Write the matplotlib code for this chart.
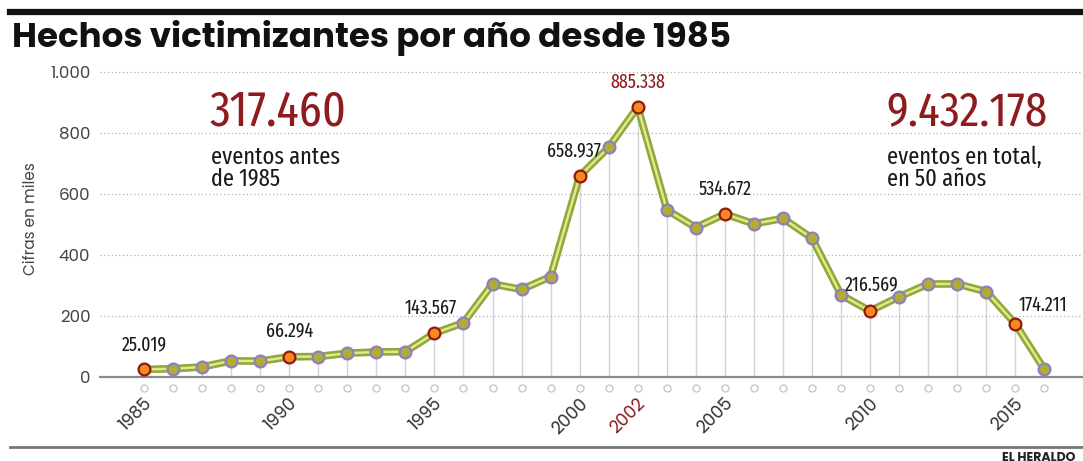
import numpy as np
import matplotlib.pyplot as plt
from matplotlib.transforms import offset_copy

years = list(range(1985, 2017))
values = [25.019, 27, 33, 53, 52, 66.294, 67, 78, 82, 83,
          143.567, 178, 305, 287, 329, 658.937, 753, 885.338, 548, 490,
          534.672, 502, 520, 455, 269, 216.569, 263, 305, 305, 280,
          174.211, 25]
highlight_years = [1985, 1990, 1995, 2000, 2002, 2005, 2010, 2015]
tick_years = [1985, 1990, 1995, 2000, 2002, 2005, 2010, 2015]
y_ticks = [0, 200, 400, 600, 800, 1000]
y_ticklabels = ['0', '200', '400', '600', '800', '1.000']

# label text and offset (points) for the highlighted values
labels = {
    1985: ('25.019', (0, 11)),
    1990: ('66.294', (0, 11)),
    1995: ('143.567', (-3, 11)),
    2000: ('658.937', (-4, 11)),
    2002: ('885.338', (0, 11)),
    2005: ('534.672', (0, 11)),
    2010: ('216.569', (1, 12)),
    2015: ('174.211', (20, 6)),
}

RED = '#8e1b1e'
NARROW = ['Fira Sans Extra Condensed', 'DejaVu Sans']
GEO = ['Poppins', 'Lato', 'DejaVu Sans']


def main():
    fig = plt.figure(figsize=(10.83, 4.61), dpi=100)
    ax = fig.add_axes([100 / 1083, 84 / 461, 983 / 1083, 317 / 461])
    ax.set_xlim(1983.485, 2017.33)
    ax.set_ylim(0, 1039.3)

    # grid + axis
    ax.set_yticks(y_ticks)
    ax.set_yticklabels(y_ticklabels, fontsize=12, color='#444444', family=GEO)
    ax.tick_params(axis='y', length=0, pad=7)
    ax.set_xticks([])
    ax.grid(axis='y', linestyle=(0, (1, 2)), color='#b0b0b0', lw=0.9)
    for s in ['left', 'right', 'top']:
        ax.spines[s].set_visible(False)
    ax.spines['bottom'].set_color('#8a8a8a')
    ax.spines['bottom'].set_linewidth(1.6)
    ax.set_ylabel('Cifras en miles', fontsize=11, color='#444444', labelpad=8,
                  family=GEO)

    # drop lines
    ax.vlines(years, 0, values, color='#d4d4d4', lw=1, zorder=1)

    # small circles under the axis
    below = offset_copy(ax.transData, fig=fig, x=0, y=-11, units='dots')
    ax.plot(years, [0] * len(years), 'o', ms=5, mfc='white', mec='#c8c8c8',
            mew=1, transform=below, clip_on=False)

    # line
    ax.plot(years, values, color='#8ea93a', lw=5.5, zorder=3,
            solid_joinstyle='round')
    ax.plot(years, values, color='#e3e68a', lw=1.8, zorder=4,
            solid_joinstyle='round')

    hv = [values[years.index(y)] for y in highlight_years]
    nv_years = [y for y in years if y not in highlight_years]
    nv = [values[years.index(y)] for y in nv_years]
    ax.plot(nv_years, nv, 'o', ms=8.5, mfc='#b3ac32', mec='#8c7fc4',
            mew=1.6, zorder=5, ls='none')
    ax.plot(highlight_years, hv, 'o', ms=8.5, mfc='#f7891f', mec='#8e1a10',
            mew=1.6, zorder=6, ls='none')

    for y, v in zip(highlight_years, hv):
        txt, off = labels[y]
        ax.annotate(txt, xy=(y, v), xytext=off, textcoords='offset points',
                    ha='center', va='bottom', fontsize=14, family=NARROW,
                    color=RED if y == 2002 else '#1a1a1a', zorder=7)

    # x tick labels
    for y in tick_years:
        ax.annotate(str(y), xy=(y, 0), xytext=(4, -17.5),
                    textcoords='offset points', rotation=45, ha='right',
                    va='center', rotation_mode='anchor', fontsize=12.5,
                    family=GEO, color=RED if y == 2002 else '#333333',
                    annotation_clip=False)

    # big numbers
    fig.text(210 / 1083, 1 - 125 / 461, '317.460', fontsize=36, color=RED,
             family=NARROW, va='baseline')
    fig.text(211 / 1083, 1 - 186 / 461, 'eventos antes\nde 1985', fontsize=17.5,
             color='#1a1a1a', family=NARROW, va='baseline', linespacing=0.95)
    fig.text(886 / 1083, 1 - 125 / 461, '9.432.178', fontsize=35, color=RED,
             family=NARROW, va='baseline')
    fig.text(887 / 1083, 1 - 186 / 461, 'eventos en total,\nen 50 años',
             fontsize=17.5, color='#1a1a1a', family=NARROW, va='baseline',
             linespacing=0.95)

    # title and frame lines
    fig.text(12 / 1083, 1 - 47 / 461, 'Hechos victimizantes por año desde 1985',
             fontsize=24.5, fontweight='bold', family=GEO,
             color='#111111', va='baseline')
    fig.add_artist(plt.Line2D([10 / 1083, 1], [1 - 12 / 461] * 2,
                              color='#111111', lw=4.5))
    fig.add_artist(plt.Line2D([10 / 1083, 1], [1 - 447 / 461] * 2,
                              color='#777777', lw=2))
    fig.text(1002 / 1083, 1 - 452 / 461, 'EL HERALDO', fontsize=9,
             fontweight='bold', color='#222222', va='top', family=GEO)

    fig.savefig('out.png', dpi=100)


if __name__ == '__main__':
    main()
